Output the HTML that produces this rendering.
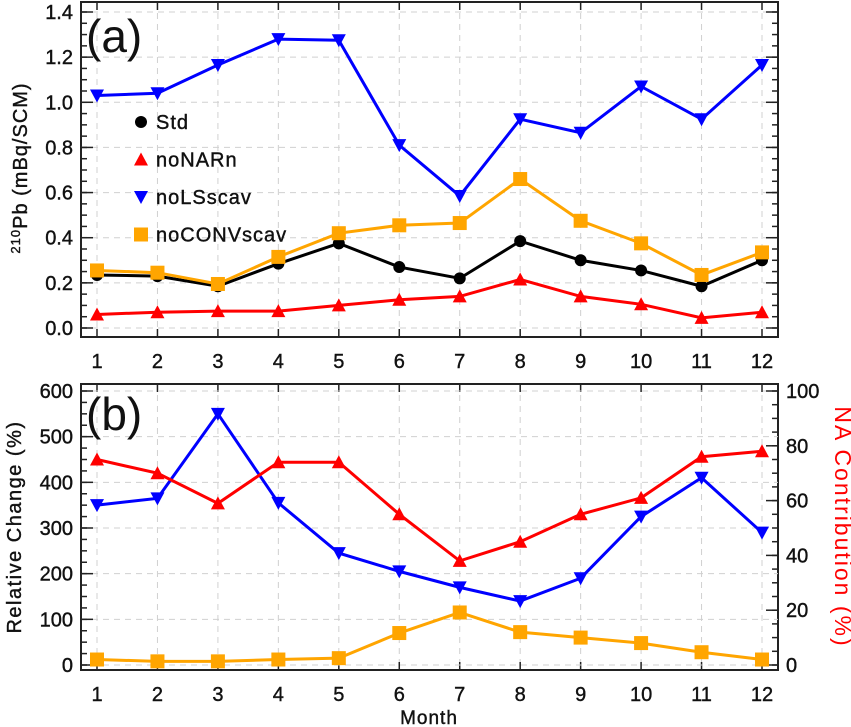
<!DOCTYPE html>
<html><head><meta charset="utf-8"><style>
body{margin:0;background:#fff}
svg{display:block;font-family:"Liberation Sans",sans-serif}
</style></head><body>
<svg id="c" width="851" height="727" xmlns="http://www.w3.org/2000/svg"></svg>
<script>
const months=[1,2,3,4,5,6,7,8,9,10,11,12];
const stdVals=[0.235,0.23,0.185,0.285,0.375,0.27,0.22,0.385,0.30,0.255,0.185,0.30];
const noNARnVals=[0.06,0.07,0.075,0.075,0.10,0.125,0.14,0.215,0.14,0.105,0.045,0.07];
const noLSscavVals=[1.03,1.04,1.165,1.28,1.275,0.81,0.585,0.925,0.865,1.07,0.925,1.165];
const noCONVVals=[0.255,0.245,0.195,0.315,0.42,0.455,0.465,0.66,0.475,0.375,0.235,0.335];
const relLSVals=[350,365,550,355,245,205,170,140,190,325,410,290];
const relCONVVals=[12,8,8,12,15,70,115,72,60,48,28,12];
const naContribVals=[75,70,59,74,74,55,38,45,55,61,76,78];
const topTicks=[0,0.2,0.4,0.6,0.8,1.0,1.2,1.4];
const botTicks=[0,100,200,300,400,500,600];
const rightTicks=[0,20,40,60,80,100];

const svg=document.getElementById('c');
const NS='http://www.w3.org/2000/svg';
function mk(tag,attrs,parent,text){const e=document.createElementNS(NS,tag);for(const k in attrs)e.setAttribute(k,attrs[k]);if(text!==undefined)e.textContent=text;(parent||svg).appendChild(e);return e;}
const L=81,R=778;
const xs=m=>97+(m-1)*(762-97)/11;
const yTop=v=>328-v*(316/1.4);
const yBot=v=>665-v*(274/600);
const yRight=v=>665-v*(274/100);
const FS=20;

function frame(top,bottom,name){
  const g=mk('g',{});
  
  
  months.forEach(m=>{mk('line',{x1:xs(m),x2:xs(m),y1:top,y2:bottom,stroke:'#d0d0d0','stroke-dasharray':'6,5','stroke-width':1},g);
    mk('line',{x1:xs(m),x2:xs(m),y1:bottom,y2:bottom-8,stroke:'#222','stroke-width':1.5},g);
    mk('line',{x1:xs(m),x2:xs(m),y1:top,y2:top+8,stroke:'#222','stroke-width':1.5},g);
    const t=mk('text',{x:xs(m),y:bottom+31,'font-size':FS,'text-anchor':'middle',fill:'#111','stroke':'#111','stroke-width':0.4},g,String(m));
    });
  mk('rect',{x:L,y:top,width:R-L,height:bottom-top,fill:'none',stroke:'#222','stroke-width':2},g);
  return g;
}
function yAxis(g,ticks,fy,minorStep,x,dir,labelX,anchor,fmt,grid){
  const lo=ticks[0],hi=ticks[ticks.length-1];
  for(let v=lo;v<=hi+1e-9;v+=minorStep){mk('line',{x1:x,x2:x+dir*6,y1:fy(v),y2:fy(v),stroke:'#222','stroke-width':1.5},g);}
  ticks.forEach(v=>{
    if(grid)mk('line',{x1:L,x2:R,y1:fy(v),y2:fy(v),stroke:'#d0d0d0','stroke-dasharray':'6,5','stroke-width':1},g);
    mk('line',{x1:x,x2:x+dir*12,y1:fy(v),y2:fy(v),stroke:'#222','stroke-width':1.5},g);
    const t=mk('text',{x:labelX,y:fy(v)+7,'font-size':FS,'text-anchor':anchor,fill:'#111','stroke':'#111','stroke-width':0.4},g,fmt(v));
    });
}
function marker(g,type,x,y,color){
  if(type==='circle')mk('circle',{cx:x,cy:y,r:6,fill:color},g);
  else if(type==='up')mk('polygon',{points:`${x-7},${y+6} ${x+7},${y+6} ${x},${y-7}`,fill:color},g);
  else if(type==='down')mk('polygon',{points:`${x-7},${y-6} ${x+7},${y-6} ${x},${y+7}`,fill:color},g);
  else mk('rect',{x:x-7,y:y-7,width:14,height:14,fill:color},g);
}
function series(vals,fy,color,type,name){
  const g=mk('g',{});
  
  
  mk('polyline',{points:vals.map((v,i)=>xs(months[i])+','+fy(v)).join(' '),fill:'none',stroke:color,'stroke-width':3},g);
  vals.forEach((v,i)=>marker(g,type,xs(months[i]),fy(v),color));
}
// Top panel
const gt=frame(2,337,'panel-a');
yAxis(gt,topTicks,yTop,0.05,L,1,73,'end',v=>v.toFixed(1),true);
yAxis(gt,topTicks,yTop,0.05,R,-1,0,'start',v=>'',false);
const ya=mk('text',{transform:'translate(27,168) rotate(-90)','font-size':20,'text-anchor':'middle',fill:'#111','letter-spacing':1,'stroke':'#111','stroke-width':0.4},svg);

mk('tspan',{'font-size':13,dy:-7},ya,'210');mk('tspan',{dy:7},ya,'Pb  (mBq/SCM)');
const pa=mk('text',{x:86,y:52,'font-size':46,fill:'#111'},svg,'(a)');

series(noNARnVals,yTop,'#f00','up','series-nonarn');
series(stdVals,yTop,'#000','circle','series-std');
series(noCONVVals,yTop,'#ffa500','square','series-noconvscav');
series(noLSscavVals,yTop,'#00f','down','series-nolsscav');
const legend=[['Std','#000','circle'],['noNARn','#f00','up'],['noLSscav','#00f','down'],['noCONVscav','#ffa500','square']];
legend.forEach((d,i)=>{const g=mk('g',{});
  
  
  const y=122+i*37.5;marker(g,d[2],141,y,d[1]);
  mk('text',{x:156,y:y+7,'font-size':20,fill:'#111','letter-spacing':1,'stroke':'#111','stroke-width':0.4},g,d[0]);});
// Bottom panel
const gb=frame(384,670,'panel-b');
yAxis(gb,botTicks,yBot,25,L,1,73,'end',v=>String(v),true);
yAxis(gb,rightTicks,yRight,5,R,-1,786,'start',v=>String(v),false);
const yb=mk('text',{transform:'translate(21,527) rotate(-90)','font-size':20,'text-anchor':'middle',fill:'#111','letter-spacing':1.5,'stroke':'#111','stroke-width':0.4},svg,'Relative Change (%)');

const yr=mk('text',{transform:'translate(835,527) rotate(90)','font-size':23,'text-anchor':'middle',fill:'#f00','letter-spacing':2},svg,'NA Contribution (%)');

const pb=mk('text',{x:86,y:430,'font-size':46,fill:'#111'},svg,'(b)');

series(relCONVVals,yBot,'#ffa500','square','series-rel-noconvscav');
series(relLSVals,yBot,'#00f','down','series-rel-nolsscav');
series(naContribVals,yRight,'#f00','up','series-na-contribution');
const xt=mk('text',{x:429,y:724,'font-size':19,'text-anchor':'middle',fill:'#111','letter-spacing':1,'stroke':'#111','stroke-width':0.4},svg,'Month');

</script>
</body></html>
